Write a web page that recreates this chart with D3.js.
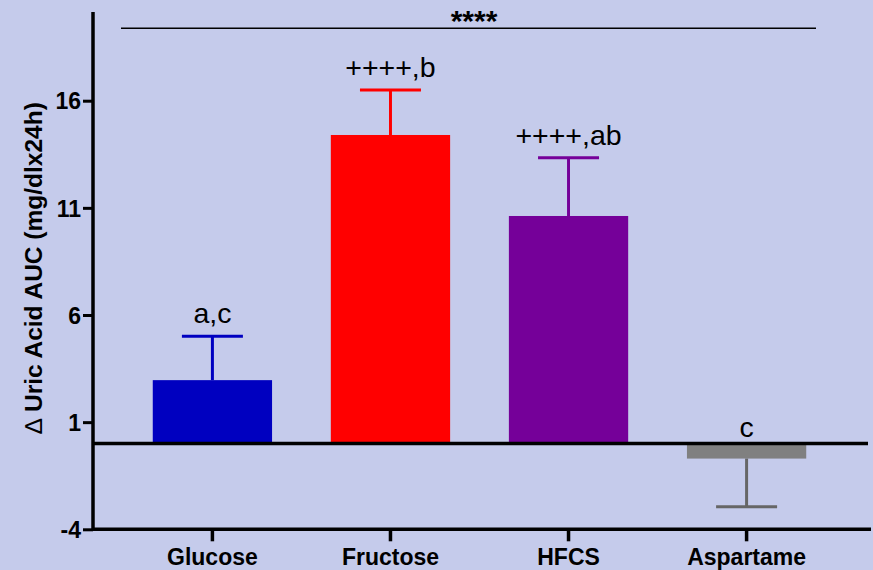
<!DOCTYPE html>
<html>
<head>
<meta charset="utf-8">
<script src="https://cdn.jsdelivr.net/npm/d3@7"></script>
<style>
  body { margin: 0; background: #c5cbeb; }
  text { font-family: Arial, "Liberation Sans", sans-serif; }
</style>
</head>
<body>
<div id="chart-area"></div>
<script>
// data
var categories = ["Glucose", "Fructose", "HFCS", "Aspartame"];
var means = [2.96, 14.4, 10.62, -0.7];
var errors = [2.05, 2.1, 2.72, 2.25];
var letters = ["a,c", "++++,b", "++++,ab", "c"];
var barColors = ["#0000c0", "#ff0000", "#750099", "#808080"];
var errColors = ["#0000c0", "#ff0000", "#750099", "#666666"];
var yTicks = [-4, 1, 6, 11, 16];

var width = 873, height = 570;

var svg = d3.select("#chart-area")
	.append("svg")
		.attr("width", width)
		.attr("height", height);

svg.append("rect")
	.attr("width", width)
	.attr("height", height)
	.attr("fill", "#c5cbeb");

var x = d3.scaleBand()
	.domain(categories)
	.range([94, 865])
	.paddingInner(0.33)
	.paddingOuter(0.33);

var y = d3.scaleLinear()
	.domain([-4, 16])
	.range([529.3, 100.7]);

var axisX = 93;

// bars
svg.selectAll(".bar")
	.data(categories)
	.enter()
	.append("rect")
		.attr("class", "bar")
		.attr("x", d => x(d))
		.attr("width", x.bandwidth())
		.attr("y", (d, i) => y(Math.max(0, means[i])))
		.attr("height", (d, i) => Math.abs(y(means[i]) - y(0)))
		.attr("fill", (d, i) => barColors[i]);

// error bars (one-sided, away from zero)
var capW = 61;
categories.forEach(function(c, i){
	var cx = x(c) + x.bandwidth() / 2;
	var end = means[i] >= 0 ? means[i] + errors[i] : means[i] - errors[i];
	svg.append("line")
		.attr("x1", cx).attr("x2", cx)
		.attr("y1", y(means[i])).attr("y2", y(end))
		.attr("stroke", errColors[i])
		.attr("stroke-width", 3);
	svg.append("line")
		.attr("x1", cx - capW / 2).attr("x2", cx + capW / 2)
		.attr("y1", y(end)).attr("y2", y(end))
		.attr("stroke", errColors[i])
		.attr("stroke-width", 3);
	// letters above
	var top = means[i] >= 0 ? y(end) - 13 : y(0) - 7;
	svg.append("text")
		.attr("x", cx)
		.attr("y", top)
		.attr("text-anchor", "middle")
		.attr("font-size", "28.5px")
		.attr("fill", "#000")
		.text(letters[i]);
});

// zero line
svg.append("line")
	.attr("x1", axisX).attr("x2", 868)
	.attr("y1", y(0)).attr("y2", y(0))
	.attr("stroke", "#000")
	.attr("stroke-width", 3.5);

// bottom axis
var xAxis = svg.append("g")
	.attr("transform", "translate(0," + y(-4) + ")")
	.call(d3.axisBottom(x).tickSize(12).tickSizeOuter(0));
xAxis.select(".domain").remove();
xAxis.append("line")
	.attr("x1", axisX).attr("x2", 871)
	.attr("stroke", "#000")
	.attr("stroke-width", 3.5);
xAxis.selectAll(".tick line")
	.attr("stroke", "#000")
	.attr("stroke-width", 3.5);
xAxis.selectAll(".tick text")
	.attr("dy", null)
	.attr("y", 36)
	.attr("font-size", "23px")
	.attr("font-weight", "bold")
	.attr("fill", "#000");

// left axis
var yAxis = svg.append("g")
	.attr("transform", "translate(" + axisX + ",0)")
	.call(d3.axisLeft(y).tickValues(yTicks).tickFormat(d => String(d))
		.tickSize(10).tickSizeOuter(0));
yAxis.select(".domain").remove();
yAxis.append("line")
	.attr("y1", y(-4) + 1.5).attr("y2", 12)
	.attr("stroke", "#000")
	.attr("stroke-width", 3.5);
yAxis.selectAll(".tick line")
	.attr("stroke", "#000")
	.attr("stroke-width", 3);
yAxis.selectAll(".tick text")
	.attr("x", -12)
	.attr("dy", "0.36em")
	.attr("font-size", "23px")
	.attr("font-weight", "bold")
	.attr("fill", "#000");

// Y label
var yLabel = svg.append("text")
	.attr("transform", "translate(42,268) rotate(-90)")
	.attr("text-anchor", "middle")
	.attr("font-size", "24.5px")
	.attr("font-weight", "bold")
	.attr("fill", "#000");
yLabel.append("tspan")
	.attr("font-weight", "normal")
	.text("\u2206 ");
yLabel.append("tspan")
	.text("Uric Acid AUC (mg/dlx24h)");

// overall significance bracket
svg.append("line")
	.attr("x1", 121).attr("x2", 816)
	.attr("y1", 28.3).attr("y2", 28.3)
	.attr("stroke", "#000")
	.attr("stroke-width", 1.5);
svg.append("text")
	.attr("x", 474)
	.attr("y", 31)
	.attr("text-anchor", "middle")
	.attr("font-size", "30px")
	.attr("font-weight", "bold")
	.attr("fill", "#000")
	.text("****");
</script>
</body>
</html>
